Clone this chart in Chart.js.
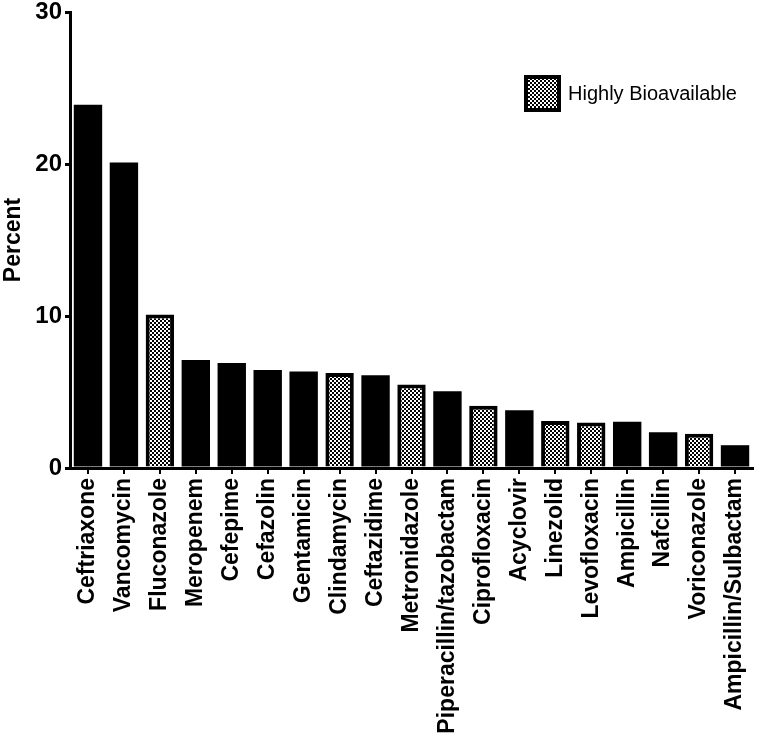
<!DOCTYPE html>
<html>
<head>
<meta charset="utf-8">
<script src="https://cdn.jsdelivr.net/npm/chart.js@4"></script>
<style>
  html, body { margin: 0; padding: 0; background: #fff; }
  #wrap { width: 760px; height: 742px; }
</style>
</head>
<body>
<div id="wrap"><canvas id="c" width="760" height="742"></canvas></div>
<script>
const categories = ["Ceftriaxone","Vancomycin","Fluconazole","Meropenem","Cefepime","Cefazolin","Gentamicin","Clindamycin","Ceftazidime","Metronidazole","Piperacillin/tazobactam","Ciprofloxacin","Acyclovir","Linezolid","Levofloxacin","Ampicillin","Nafcillin","Voriconazole","Ampicillin/Sulbactam"];
const percentValues = [23.9, 20.1, 10.1, 7.1, 6.9, 6.45, 6.35, 6.25, 6.1, 5.5, 5.05, 4.1, 3.8, 3.1, 3.0, 3.05, 2.35, 2.25, 1.5];
const highlyBioavailable = [false,false,true,false,false,false,false,true,false,true,false,true,false,true,true,false,false,true,false];
const yTicks = [0, 10, 20, 30];
const legendLabel = "Highly Bioavailable";
const yTitle = "Percent";

function makePattern() {
  const p = document.createElement('canvas');
  p.width = 4; p.height = 4;
  const g = p.getContext('2d');
  g.fillStyle = '#fff'; g.fillRect(0, 0, 4, 4);
  g.fillStyle = '#000';
  g.fillRect(0, 0, 2, 2);
  g.fillRect(2, 2, 2, 2);
  return document.getElementById('c').getContext('2d').createPattern(p, 'repeat');
}
const pattern = makePattern();

const legendPlugin = {
  id: 'cornerLegend',
  afterDraw(chart) {
    const ctx = chart.ctx, a = chart.chartArea;
    const size = 37;
    const x = a.right - 229, y = a.top + 63;
    ctx.save();
    ctx.fillStyle = '#000';
    ctx.fillRect(x, y, size, size);
    ctx.fillStyle = pattern;
    ctx.fillRect(x + 4, y + 4, size - 8, size - 8);
    ctx.fillStyle = '#000';
    ctx.font = '20px "Liberation Sans", Arial, sans-serif';
    ctx.textBaseline = 'middle';
    ctx.textAlign = 'left';
    ctx.fillText(legendLabel, x + size + 7, y + size / 2 + 1);
    ctx.restore();
  }
};

new Chart(document.getElementById('c'), {
  type: 'bar',
  data: {
    labels: categories,
    datasets: [{
      label: legendLabel,
      data: percentValues,
      backgroundColor: highlyBioavailable.map(b => b ? pattern : '#000'),
      borderColor: '#000',
      borderWidth: highlyBioavailable.map(b => b ? 4 : 0),
      borderSkipped: 'start',
      barPercentage: 0.79,
      categoryPercentage: 1.0
    }]
  },
  options: {
    responsive: false,
    animation: false,
    layout: { padding: { top: 12, right: 7, left: 0, bottom: 0 } },
    plugins: {
      legend: { display: false },
      tooltip: { enabled: false }
    },
    scales: {
      x: {
        offset: true,
        afterFit(scale) { scale.height = 274; scale.paddingLeft = 0; scale.paddingRight = 0; },
        grid: { display: true, drawOnChartArea: false, drawTicks: true, tickLength: 6, offset: false, color: '#000', lineWidth: 2 },
        border: { display: true, color: '#000', width: 3 },
        ticks: {
          autoSkip: false,
          maxRotation: 90,
          minRotation: 90,
          padding: 4,
          color: '#000',
          font: { family: '"Liberation Sans", Arial, sans-serif', size: 23, weight: 'bold' }
        }
      },
      y: {
        min: 0,
        max: 30,
        afterFit(scale) { scale.width = 70; scale.paddingTop = 0; scale.paddingBottom = 0; },
        afterBuildTicks(scale) { scale.ticks = yTicks.map(v => ({ value: v })); },
        grid: { display: true, drawOnChartArea: false, drawTicks: true, tickLength: 5, color: '#000', lineWidth: 3 },
        border: { display: true, color: '#000', width: 3 },
        ticks: {
          padding: 3,
          color: '#000',
          font: { family: '"Liberation Sans", Arial, sans-serif', size: 24, weight: 'bold' }
        },
        title: {
          display: true,
          text: yTitle,
          color: '#000',
          padding: { top: 0, bottom: 0 },
          font: { family: '"Liberation Sans", Arial, sans-serif', size: 23, weight: 'bold' }
        }
      }
    }
  },
  plugins: [legendPlugin]
});
</script>
</body>
</html>
